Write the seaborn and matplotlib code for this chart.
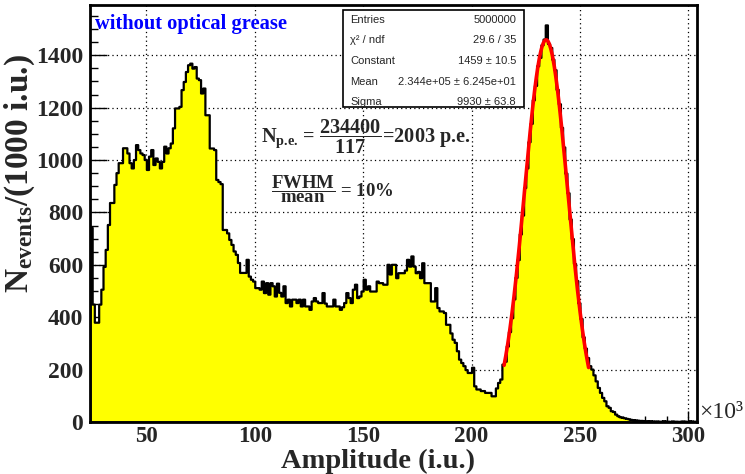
import numpy as np
import pandas as pd
import matplotlib
matplotlib.use("Agg")
import matplotlib.pyplot as plt
import seaborn as sns
from matplotlib.patches import Rectangle
from matplotlib.ticker import MultipleLocator

# ---------------- data (amplitude in units of 1000 i.u.) ----------------
bin_start = 24          # first bin lower edge (x10^3)
bin_width = 1           # 1000 i.u. per bin
counts = [
    743, 450, 381, 381, 450, 507, 594, 659, 754, 838,            # 24-33
    838, 907, 952, 990, 990, 1047, 1047, 1027, 990, 970,         # 34-43
    1002, 1059, 1040, 1027, 1021, 1002, 964, 1015, 1040, 983,    # 44-53
    1008, 995, 970, 995, 1053, 1027, 1047, 1065, 1123, 1199,     # 54-63
    1199, 1205, 1269, 1300, 1338, 1364, 1370, 1351, 1357, 1313,  # 64-73
    1307, 1256, 1275, 1173, 1173, 1046, 1046, 1040, 926, 918,    # 74-83
    910, 735, 735, 722, 697, 678, 653, 640, 609, 571,            # 84-93
    571, 571, 621, 557, 545, 538, 513, 513, 507, 538,            # 94-103
    494, 532, 488, 532, 520, 481, 530, 495, 481, 520,            # 104-113
    456, 469, 443, 469, 469, 456, 469, 443, 469, 443,            # 114-123
    443, 430, 462, 475, 462, 456, 456, 494, 454, 443,            # 124-133
    443, 443, 469, 443, 443, 430, 440, 456, 494, 475,            # 134-143
    456, 507, 526, 475, 481, 500, 545, 507, 520, 500,            # 144-153
    500, 500, 538, 532, 532, 526, 526, 602, 565, 602,            # 154-163
    602, 551, 570, 570, 570, 580, 621, 595, 634, 595,            # 164-173
    570, 575, 551, 608, 532, 532, 532, 462, 462, 513,            # 174-183
    437, 424, 424, 418, 373, 373, 340, 316, 304, 272,            # 184-193
    240, 227, 215, 200, 189, 189, 209, 138, 126, 126,            # 194-203
    120, 120, 113, 113, 113, 100, 100, 130, 151, 164,            # 204-213
    221, 232, 290, 345, 398, 470, 552, 620, 718, 790,            # 214-223
    895, 970, 1070, 1140, 1230, 1285, 1360, 1392, 1440, 1462,    # 224-233
    1516, 1445, 1430, 1385, 1345, 1270, 1215, 1125, 1050, 950,   # 234-243
    875, 775, 700, 605, 540, 455, 395, 325, 282, 246,            # 244-253
    215, 202, 180, 157, 132, 113, 94, 81, 62, 56,                # 254-263
    43, 40, 30, 24, 20, 18, 16, 14, 12, 10,                      # 264-273
    9, 8, 7, 6, 6, 5, 5, 4, 5, 4,                                # 274-283
    3, 4, 3, 3, 5, 4, 3, 2, 4, 3,                                # 284-293
    3, 2, 3, 4, 3, 2, 5, 4, 3, 3,                                # 294-303
]

# Gaussian fit parameters (from the stats box)
fit_constant = 1459.0
fit_mean = 234.4        # x10^3
fit_sigma = 9.93        # x10^3
fit_range = (215.0, 254.0)

x_ticks = [50, 100, 150, 200, 250, 300]
y_ticks = [0, 200, 400, 600, 800, 1000, 1200, 1400]

stats_names = ["Entries", "χ² / ndf", "Constant", "Mean", "Sigma"]
stats_values = ["5000000", "29.6 / 35", "1459 ± 10.5",
                "2.344e+05 ± 6.245e+01", "9930 ± 63.8"]

legend_text = "without optical grease"
x_title = "Amplitude (i.u.)"
y_title = r"$N_{events}$/(1000 i.u.)"

# ---------------- style ----------------
sns.set_style("ticks")
plt.rcParams["font.family"] = ["Liberation Serif", "DejaVu Serif"]
plt.rcParams["font.weight"] = "bold"
plt.rcParams["mathtext.fontset"] = "custom"
plt.rcParams["mathtext.rm"] = "Liberation Serif:bold"
plt.rcParams["mathtext.it"] = "Liberation Serif:bold"
plt.rcParams["mathtext.bf"] = "Liberation Serif:bold"
plt.rcParams["mathtext.sf"] = "Liberation Serif:bold"

W, H = 745, 474
fig = plt.figure(figsize=(W / 100, H / 100), dpi=100)
fig.patch.set_facecolor("white")

def fx(px):
    return px / W

def fy(py):
    return 1 - py / H

ax = fig.add_axes([fx(90), fy(422), fx(697) - fx(90), fy(5) - fy(422)])
ax.set_facecolor("white")

n = len(counts)
edges = bin_start + bin_width * np.arange(n + 1)
centers = edges[:-1] + bin_width / 2
df = pd.DataFrame({"amp": centers, "n": counts})

sns.histplot(data=df, x="amp", weights="n", binwidth=bin_width,
             binrange=(float(edges[0]), float(edges[-1])), element="step",
             fill=True, color="#ffff00", alpha=1, edgecolor="black",
             linewidth=1.6, ax=ax, zorder=2)

xf = np.linspace(fit_range[0], fit_range[1], 300)
yf = fit_constant * np.exp(-0.5 * ((xf - fit_mean) / fit_sigma) ** 2)
sns.lineplot(x=xf, y=yf, color="red", linewidth=2.6, ax=ax, zorder=3)

ax.set_xlim(edges[0], edges[-1])
ax.set_ylim(0, 1592)
ax.set_xlabel("")
ax.set_ylabel("")

ax.set_xticks(x_ticks)
ax.set_yticks(y_ticks)
ax.set_xticklabels([str(t) for t in x_ticks])
ax.set_yticklabels([str(t) for t in y_ticks])
ax.xaxis.set_minor_locator(MultipleLocator(10))
ax.yaxis.set_minor_locator(MultipleLocator(50))

ax.tick_params(axis="both", which="both", direction="in", top=False,
               right=False, width=1.0, color="black")
ax.tick_params(axis="y", which="major", length=12.5, pad=5, labelsize=17)
ax.tick_params(axis="y", which="minor", length=6)
ax.tick_params(axis="x", which="major", length=8, pad=3, labelsize=16.5)
ax.tick_params(axis="x", which="minor", length=4)
for lab in ax.get_xticklabels() + ax.get_yticklabels():
    lab.set_fontweight("bold")

for s in ax.spines.values():
    s.set_linewidth(2)
    s.set_color("black")
    s.set_visible(True)

ax.set_axisbelow(True)
ax.grid(True, which="major", linestyle=(0, (1, 2.5)), color="black",
        linewidth=0.9)

# titles
fig.text(fx(378), fy(474), x_title, ha="center", va="bottom",
         fontsize=20.5, fontweight="bold")
fig.text(fx(20), fy(174), y_title, ha="center", va="center",
         rotation=90, fontsize=24, fontweight="bold")
fig.text(fx(699), fy(413), "×10³", ha="left", va="center",
         fontsize=17, fontweight="normal")

# legend-like text
fig.text(fx(95), fy(24), legend_text, ha="left", va="center",
         fontsize=14.8, fontweight="bold", color="#0000ff")

# annotations
fig.text(fx(261), fy(137), r"$N_{\text{p.e.}}$ = $\dfrac{234400}{117}$=2003 p.e.",
         ha="left", va="center", fontsize=14.6, fontweight="bold")
fig.text(fx(271), fy(189), r"$\dfrac{FWHM}{mean}$ = 10%",
         ha="left", va="center", fontsize=13.5, fontweight="bold")

# stats box
box = Rectangle((fx(343), fy(107)), fx(524) - fx(343), fy(10) - fy(107),
                transform=fig.transFigure, facecolor="white",
                edgecolor="black", linewidth=1.2, zorder=5)
fig.patches.append(box)
row_y = [20, 40, 61, 82, 102]
for name, val, ry in zip(stats_names, stats_values, row_y):
    fig.text(fx(350), fy(ry), name, ha="left", va="center",
             fontsize=8, fontweight="normal", family="Liberation Sans",
             zorder=6)
    fig.text(fx(516), fy(ry), val, ha="right", va="center",
             fontsize=8, fontweight="normal", family="Liberation Sans",
             zorder=6)

fig.savefig("out.png", dpi=100, facecolor="white")
